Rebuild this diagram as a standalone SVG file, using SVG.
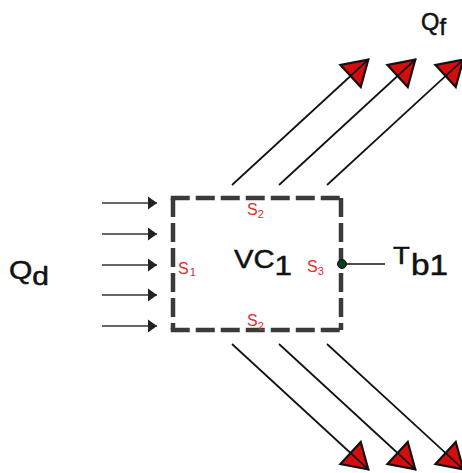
<svg xmlns="http://www.w3.org/2000/svg" width="462" height="473" viewBox="0 0 462 473">
<style>
.lbl{font-family:"Liberation Sans",Arial,sans-serif;fill:#111;stroke:#111;stroke-width:0.5}
.s{font-family:"Liberation Sans",Arial,sans-serif;fill:#e42a2a;font-size:16px}
.box{fill:none;stroke:#3a3a3a;stroke-width:4.5;stroke-dasharray:19 6}
.flow{stroke:#111;stroke-width:1.7;fill:none;marker-end:url(#redhead)}
.in{stroke:#333;stroke-width:1.5;fill:none;marker-end:url(#blackhead)}
</style>
<defs>
<marker id="redhead" markerUnits="userSpaceOnUse" viewBox="-30 -20 40 40" refX="0" refY="0" markerWidth="40" markerHeight="40" orient="auto" overflow="visible">
<path d="M-1,0 L-25,-15 L-25,15 Z" fill="#d40d0d" stroke="#111" stroke-width="2.2" stroke-linejoin="miter"/>
<path d="M-26,0 L-1,0" stroke="#111" stroke-width="1.7"/>
</marker>
<marker id="blackhead" markerUnits="userSpaceOnUse" viewBox="-12 -8 16 16" refX="0" refY="0" markerWidth="16" markerHeight="16" orient="auto" overflow="visible">
<path d="M0,0 L-9,-6.5 L-9,6.5 Z" fill="#222"/>
</marker>
</defs>

<g id="connectors">
<line class="in" x1="102" y1="203" x2="157" y2="203"/>
<line class="in" x1="102" y1="234" x2="157" y2="234"/>
<line class="in" x1="102" y1="265" x2="157" y2="265"/>
<line class="in" x1="102" y1="295" x2="157" y2="295"/>
<line class="in" x1="102" y1="326" x2="157" y2="326"/>
<line class="flow" x1="232" y1="185" x2="369" y2="59"/>
<line class="flow" x1="279" y1="185" x2="416" y2="59"/>
<line class="flow" x1="327" y1="185" x2="464" y2="59"/>
<line class="flow" x1="232" y1="344" x2="369" y2="470"/>
<line class="flow" x1="279" y1="344" x2="416" y2="470"/>
<line class="flow" x1="327" y1="344" x2="464" y2="470"/>
<line x1="342" y1="264" x2="385" y2="264" stroke="#111" stroke-width="1.5"/>
</g>

<g id="vc1">
<line class="box" x1="170.75" y1="198" x2="343.25" y2="198"/>
<line class="box" x1="341" y1="198" x2="341" y2="330"/>
<line class="box" x1="170.75" y1="330" x2="343.25" y2="330"/>
<line class="box" x1="173" y1="198" x2="173" y2="330"/>
<text class="lbl" x="234" y="268" font-size="26" textLength="58" lengthAdjust="spacingAndGlyphs">VC<tspan font-size="28" dy="7">1</tspan></text>
<text class="s" x="178" y="274">S<tspan font-size="11" dx="1" dy="2">1</tspan></text>
<text class="s" x="247" y="215">S<tspan font-size="11" dy="3">2</tspan></text>
<text class="s" x="307" y="272">S<tspan font-size="11" dy="3">3</tspan></text>
<text class="s" x="247" y="326">S<tspan font-size="11" dy="4">2</tspan></text>
</g>

<g id="qd">
<text class="lbl" x="9" y="279" font-size="26" textLength="40" lengthAdjust="spacingAndGlyphs">Q<tspan dy="6">d</tspan></text>
</g>

<g id="qf">
<text class="lbl" x="421" y="30" font-size="24" textLength="25" lengthAdjust="spacingAndGlyphs">Q<tspan dy="5">f</tspan></text>
</g>

<g id="tb1">
<circle cx="342" cy="264" r="4.5" fill="#0b3d1c" stroke="#111" stroke-width="1"/>
<text class="lbl" x="0" y="0" font-size="24" transform="translate(393,264) scale(1.15,1)">T<tspan font-size="29" dx="1" dy="11">b1</tspan></text>
</g>
</svg>
